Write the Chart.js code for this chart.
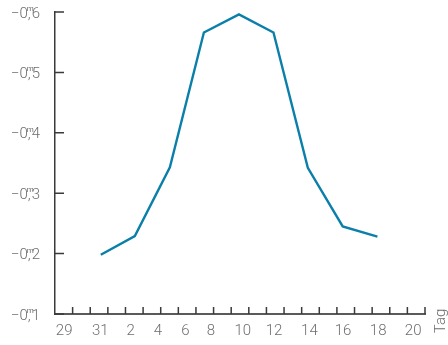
<!DOCTYPE html>
<html>
<head>
<meta charset="utf-8">
<script src="https://cdn.jsdelivr.net/npm/chart.js@4/dist/chart.umd.min.js"></script>
<style>
  html, body { margin: 0; padding: 0; background: #ffffff; }
  #wrap { width: 448px; height: 345px; }
</style>
</head>
<body>
<div id="wrap"><canvas id="lc" width="448" height="345"></canvas></div>
<script>
// Light curve: magnitude against day (axis runs from Oct 29 to Nov 20)
const dayOffsets = [2.60, 4.53, 6.52, 8.45, 10.44, 12.40, 14.35, 16.33, 18.30];
const magnitudes = [-0.198, -0.229, -0.343, -0.566, -0.596, -0.566, -0.342, -0.245, -0.228];

// Day labels along the bottom and where they sit on the day axis
const xTickLabels = ['29', '31', '2', '4', '6', '8', '10', '12', '14', '16', '18', '20'];
const xTickPos = [0.52, 2.57, 4.30, 5.84, 7.40, 8.85, 10.66, 12.43, 14.44, 16.35, 18.34, 20.33];

// Magnitude ticks
const yTicks = [-0.6, -0.5, -0.4, -0.3, -0.2, -0.1];
const xTitle = 'Tag';

const textColor = '#6e6e6e';
const fontFamily = 'Roboto, "DejaVu Sans", sans-serif';

// Inward tick marks, magnitude labels (−0,ᵐ6 style with the m over the comma)
// and the rotated day title
const axisDecor = {
  id: 'axisDecor',
  afterDraw(chart) {
    const ctx = chart.ctx;
    const xs = chart.scales.x, ys = chart.scales.y;
    const a = chart.chartArea;
    ctx.save();
    ctx.strokeStyle = '#3a3a3a';
    ctx.lineWidth = 1.5;
    ctx.beginPath();
    for (let d = Math.ceil(xs.min) + 1; d <= xs.max; d++) {
      const px = xs.getPixelForValue(d);
      ctx.moveTo(px, a.bottom);
      ctx.lineTo(px, a.bottom - 7);
    }
    yTicks.forEach(v => {
      const py = ys.getPixelForValue(v);
      ctx.moveTo(a.left, py);
      ctx.lineTo(a.left + 9, py);
    });
    ctx.stroke();

    ctx.fillStyle = textColor;
    const mainFont = '300 15px ' + fontFamily;
    const supFont = '400 8px ' + fontFamily;
    yTicks.forEach(v => {
      const py = ys.getPixelForValue(v);
      const head = (v < 0 ? '\u2212' : '') + '0';
      const tail = String(Math.round(Math.abs(v) * 10));
      ctx.font = mainFont;
      ctx.textBaseline = 'alphabetic';
      ctx.textAlign = 'left';
      const wHead = ctx.measureText(head).width;
      const wComma = ctx.measureText(',').width + 1;
      const wTail = ctx.measureText(tail).width;
      const right = a.left - 15;
      const x0 = right - (wHead + wComma + wTail);
      const base = py + 5.5;
      ctx.fillText(head, x0, base);
      ctx.fillText(',', x0 + wHead, base);
      ctx.fillText(tail, x0 + wHead + wComma, base);
      ctx.font = supFont;
      ctx.textAlign = 'center';
      ctx.fillText('m', x0 + wHead + wComma / 2 + 0.5, base - 6.5);
    });

    ctx.translate(441, 321);
    ctx.rotate(-Math.PI / 2);
    ctx.font = '300 15px ' + fontFamily;
    ctx.textAlign = 'center';
    ctx.textBaseline = 'middle';
    ctx.fillText(xTitle, 0, 0);
    ctx.restore();
  }
};

new Chart(document.getElementById('lc'), {
  type: 'line',
  data: {
    datasets: [{
      data: dayOffsets.map((d, i) => ({ x: d, y: magnitudes[i] })),
      borderColor: '#0a7fa9',
      borderWidth: 2.4,
      pointRadius: 0,
      tension: 0,
      fill: false,
      borderJoinStyle: 'miter'
    }]
  },
  options: {
    responsive: false,
    animation: false,
    layout: { padding: { top: 12, right: 23, left: 0, bottom: 0 } },
    plugins: { legend: { display: false }, tooltip: { enabled: false } },
    scales: {
      x: {
        type: 'linear',
        min: 0,
        max: 21,
        afterBuildTicks(scale) { scale.ticks = xTickPos.map(v => ({ value: v })); },
        afterFit(scale) { scale.height = 31; },
        grid: { drawOnChartArea: false, drawTicks: false },
        border: { display: true, color: '#5a5a5a', width: 2 },
        ticks: {
          autoSkip: false,
          maxRotation: 0,
          padding: 8,
          color: textColor,
          font: { family: fontFamily, size: 15, weight: '300' },
          callback: (v, i) => xTickLabels[i]
        }
      },
      y: {
        type: 'linear',
        reverse: true,
        min: -0.6,
        max: -0.1,
        afterBuildTicks(scale) { scale.ticks = yTicks.map(v => ({ value: v })); },
        afterFit(scale) { scale.width = 55; },
        grid: { drawOnChartArea: false, drawTicks: false },
        border: { display: true, color: '#3a3a3a', width: 1.5 },
        ticks: { display: false }
      }
    }
  },
  plugins: [axisDecor]
});
</script>
</body>
</html>
